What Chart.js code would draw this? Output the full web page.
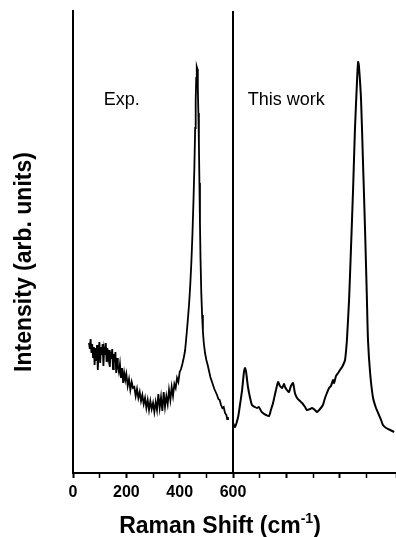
<!DOCTYPE html>
<html>
<head>
<meta charset="utf-8">
<script src="https://cdn.jsdelivr.net/npm/chart.js@4/dist/chart.umd.min.js"></script>
<style>
  html, body { margin: 0; padding: 0; background: #fff; }
  canvas { display: block; }
</style>
</head>
<body>
<canvas id="raman" width="396" height="537"></canvas>
<script>
// Measured Raman spectrum (left panel), shift in cm-1 and intensity in arb. units
const expShift = [60,63,66,69,72,75,78,81,84,87,90,93,96,99,102,105,108,111,114,117,120,123,126,129,132,135,138,141,144,147,150,153,156,159,162,165,168,172,176,180,184,188,192,196,200,205,210,215,220,225,230,235,240,245,250,255,260,265,270,275,280,285,290,295,300,305,310,315,320,325,330,335,340,345,350,355,360,365,370,375,380,385,390,395,400,405,410,415,420,424,428,432,436,440,444,448,452,455,458,460,462,464,466,468,470,472,474,476,478,481,484,487,490,495,500,505,510,515,520,525,530,535,540,545,550,555,560,565,570,575,578,581];
const expIntensity = [130,124,134,120,129,116,126,108,125,112,128,103,122,131,110,126,118,129,107,124,119,130,111,125,116,123,106,121,114,124,104,119,111,121,100,115,107,101,109,95,105,90,100,93,99,87,94,83,91,85,86,77,84,75,81,72,78,69,75,65,73,63,72,64,70,61,71,63,79,65,76,62,81,66,77,69,83,73,86,77,89,85,95,91,101,104,109,115,122,133,145,158,172,190,212,240,275,305,345,372,395,406,404,385,360,330,290,250,215,180,158,142,131,120,113,108,102,96,92,88,84,81,78,74,73,68,65,66,60,58,54,56];

// Calculated spectrum (right panel), placed on the same shift axis
const calcShift = [600,607,619,626,634,641,645,649,656,664,671,682,690,697,705,712,724,735,742,750,761,769,776,784,791,795,802,810,817,825,832,840,851,859,870,877,889,896,907,915,926,937,945,952,960,967,975,979,986,994,1001,1009,1016,1020,1024,1027,1035,1042,1050,1057,1065,1069,1072,1080,1087,1095,1102,1106,1114,1125,1136,1144,1155,1162,1174,1189,1204];
const calcIntensity = [50,46,56,68,83,101,105,101,86,75,68,66,65,66,62,60,58,57,63,70,83,91,87,85,89,86,83,81,87,90,80,75,72,70,66,63,64,65,63,61,64,68,75,80,85,87,93,90,97,100,103,106,110,113,123,133,173,223,283,343,393,411,407,373,313,243,173,133,100,75,65,60,53,48,45,43,41];

// Tick labels shown on the shift axis
const labeledTicks = [0, 200, 400, 600];
const panelLabels = ['Exp.', 'This work'];
const panelLabelShift = [115, 655];
const splitShift = 600;

const toPoints = (xs, ys) => xs.map((x, i) => ({ x: x, y: ys[i] }));

const FONT = '"Liberation Sans", Arial, sans-serif';

const decorations = {
  id: 'decorations',
  afterDatasetsDraw(chart) {
    const { ctx, chartArea, scales } = chart;
    const x = scales.x;
    ctx.save();
    // divider between the two panels
    const xs = Math.round(x.getPixelForValue(splitShift));
    ctx.strokeStyle = '#000';
    ctx.lineWidth = 2;
    ctx.beginPath();
    ctx.moveTo(xs, chartArea.top);
    ctx.lineTo(xs, chartArea.bottom);
    ctx.stroke();

    // panel captions
    ctx.fillStyle = '#000';
    ctx.font = '18px ' + FONT;
    ctx.textBaseline = 'alphabetic';
    ctx.textAlign = 'left';
    ctx.fillText(panelLabels[0], x.getPixelForValue(panelLabelShift[0]), 105);
    ctx.fillText(panelLabels[1], x.getPixelForValue(panelLabelShift[1]), 105);

    // x axis title with superscript
    ctx.font = 'bold 23px ' + FONT;
    const main = 'Raman Shift (cm';
    const sup = '-1';
    const close = ')';
    const wMain = ctx.measureText(main).width;
    ctx.font = 'bold 14px ' + FONT;
    const wSup = ctx.measureText(sup).width;
    ctx.font = 'bold 23px ' + FONT;
    const wClose = ctx.measureText(close).width;
    const total = wMain + wSup + wClose;
    let tx = 220 - total / 2;
    const base = 533;
    ctx.fillText(main, tx, base);
    tx += wMain;
    ctx.font = 'bold 14px ' + FONT;
    ctx.fillText(sup, tx, base - 10);
    tx += wSup;
    ctx.font = 'bold 23px ' + FONT;
    ctx.fillText(close, tx, base);

    // y axis title
    ctx.translate(25, 262);
    ctx.rotate(-Math.PI / 2);
    ctx.textAlign = 'center';
    ctx.textBaseline = 'middle';
    ctx.font = 'bold 23px ' + FONT;
    ctx.fillText('Intensity (arb. units)', 0, 0);
    ctx.restore();
  }
};

new Chart(document.getElementById('raman'), {
  type: 'scatter',
  data: {
    datasets: [
      {
        data: toPoints(expShift, expIntensity),
        showLine: true,
        borderColor: '#000',
        borderWidth: 1.8,
        pointRadius: 0,
        tension: 0
      },
      {
        data: toPoints(calcShift, calcIntensity),
        showLine: true,
        borderColor: '#000',
        borderWidth: 2,
        pointRadius: 0,
        tension: 0.2
      }
    ]
  },
  options: {
    responsive: false,
    animation: false,
    devicePixelRatio: 1,
    layout: { padding: { top: 11, right: 0, left: 0, bottom: 0 } },
    plugins: { legend: { display: false }, tooltip: { enabled: false } },
    scales: {
      x: {
        type: 'linear',
        min: 0,
        max: 1211,
        afterFit(scale) {
          scale.height = 64;
          scale.paddingLeft = 0;
          scale.paddingRight = 0;
        },
        border: { display: true, color: '#000', width: 2 },
        grid: {
          display: true,
          drawOnChartArea: false,
          drawTicks: true,
          tickLength: 5,
          tickColor: '#000',
          tickWidth: (c) => (c.tick && c.tick.value % 200 === 0 ? 2 : 1.5)
        },
        ticks: {
          stepSize: 100,
          autoSkip: false,
          maxRotation: 0,
          padding: 5,
          color: '#000',
          font: { family: FONT, size: 16, weight: 'bold' },
          callback: (v) => (labeledTicks.includes(v) ? String(v) : '')
        }
      },
      y: {
        type: 'linear',
        min: 0,
        max: 462,
        afterFit(scale) { scale.width = 73; },
        border: { display: true, color: '#000', width: 2 },
        grid: { display: false },
        ticks: { display: false }
      }
    }
  },
  plugins: [decorations]
});
</script>
</body>
</html>
